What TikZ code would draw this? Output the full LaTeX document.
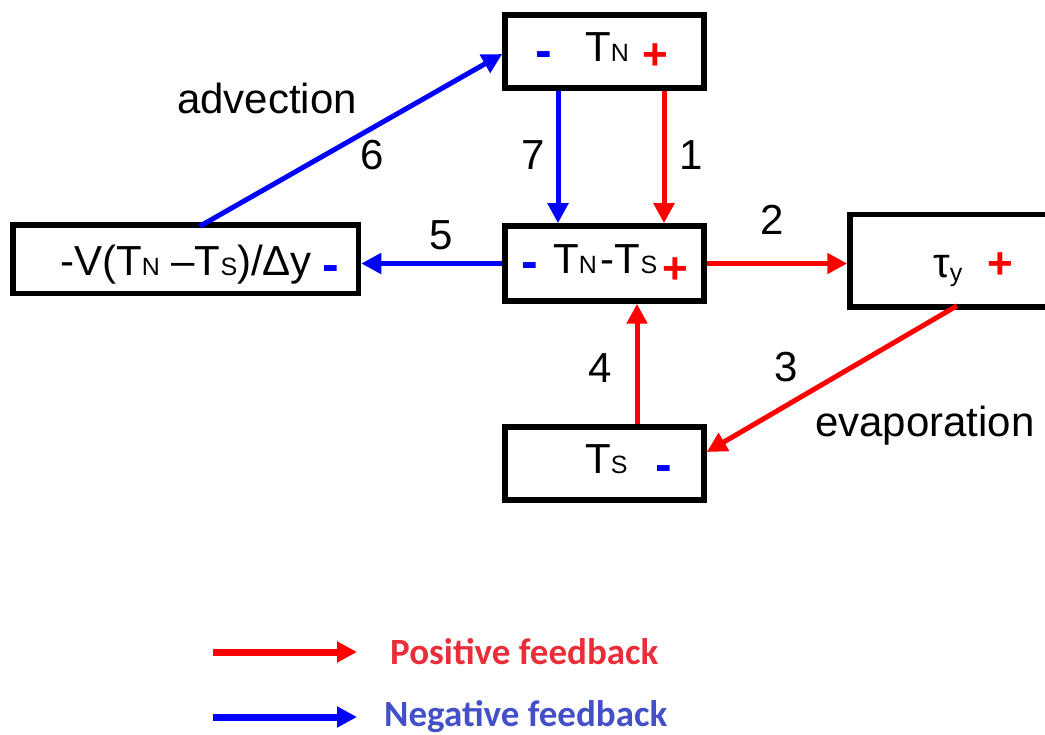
\documentclass[tikz,border=0pt]{standalone}
\usepackage{fontspec}
\setmainfont{Liberation Sans}
\newfontfamily\legfont{Carlito}
\usetikzlibrary{arrows.meta}
\definecolor{posred}{RGB}{255,0,0}
\definecolor{negblue}{RGB}{0,0,255}
\definecolor{legred}{RGB}{232,46,56}
\definecolor{legblue}{RGB}{68,80,200}
\newcommand{\smc}[1]{{\fontsize{25}{25}\selectfont #1}}
\begin{document}
\begin{tikzpicture}[x=1pt,y=-1pt,
  box/.style={draw=black,line width=5.5pt,inner sep=0pt},
  txt/.style={font=\fontsize{42}{42}\selectfont,inner sep=0pt,anchor=base},
  sgn/.style={font=\bfseries\fontsize{44}{44}\selectfont,inner sep=0pt,anchor=base},
  msgn/.style={font=\bfseries\fontsize{50}{50}\selectfont,inner sep=0pt,anchor=base},
  posarr/.style={draw=posred,line width=5pt,-{Triangle[length=20pt,width=20pt]}},
  negarr/.style={draw=negblue,line width=5pt,-{Triangle[length=20pt,width=20pt]}},
  legpos/.style={draw=posred,line width=7pt,-{Triangle[length=20pt,width=20pt]}},
  legneg/.style={draw=negblue,line width=7pt,-{Triangle[length=20pt,width=20pt]}},
  legtxt/.style={font=\legfont\bfseries\fontsize{37}{37}\selectfont,inner sep=0pt,anchor=west}]
\useasboundingbox (0,0) rectangle (1045,735);
% boxes
\node[box,minimum width=199pt,minimum height=73pt] (tn) at (604.5,51.5) {};
\node[box,minimum width=199pt,minimum height=75pt] (d) at (604.5,263.5) {};
\node[box,minimum width=345.5pt,minimum height=68.5pt] (adv) at (185.75,259.25) {};
\node[box,minimum width=200pt,minimum height=92.5pt] (tau) at (950,260.75) {};
\node[box,minimum width=199pt,minimum height=73pt] (ts) at (604.5,463.5) {};
% box texts
\node[txt,anchor=base west] (tnlab) at (585,62) {T\smc{N}};
\node[txt,anchor=base west] (dlab) at (553,274) {T\smc{N}\hspace{4pt}-T\smc{S}};
\node[txt,anchor=base west] (advlab) at (60,276) {-V(T\smc{N} –T\smc{S})/Δy};
\node[txt,anchor=base west] (taulab) at (933,278) {τ\raisebox{-4pt}{\smc{y}}};
\node[txt,anchor=base west] (tslab) at (585,474) {T\smc{S}};
% signs
\node[msgn,negblue] (tnm) at (543.5,68) {-};
\node[sgn,posred] (tnp) at (655,69.5) {+};
\node[msgn,negblue] (dm) at (530,278.5) {-};
\node[sgn,posred] (dp) at (675,283.5) {+};
\node[msgn,negblue] (advm) at (331,282) {-};
\node[sgn,posred] (taup) at (1000,278.5) {+};
\node[msgn,negblue] (tsm) at (663.5,482) {-};
% connectors
\draw[negarr] ([xshift=-46.5pt]tn.south) -- ([xshift=-46.5pt]d.north);
\draw[posarr] ([xshift=59.5pt]tn.south) -- ([xshift=59.5pt]d.north);
\draw[posarr] (d.east) -- (d.east -| tau.west);
\draw[negarr] (d.west) -- (d.west -| adv.east);
\draw[negarr] ([xshift=14pt,yshift=-4pt]adv.north) -- ([yshift=-2.5pt]tn.west);
\draw[posarr] ([xshift=7pt,yshift=4pt]tau.south) -- ([yshift=11.5pt]ts.east);
\draw[posarr] ([xshift=32.5pt]ts.north) -- ([xshift=32.5pt]d.south);
% labels
\node[txt] (l6) at (372,170) {6};
\node[txt] (l7) at (533,170) {7};
\node[txt] (l1) at (691,170) {1};
\node[txt] (l5) at (441,250) {5};
\node[txt] (l2) at (772,235) {2};
\node[txt] (l4) at (600,383) {4};
\node[txt] (l3) at (786,382) {3};
\node[txt,anchor=base west] (ladv) at (177,114) {advection};
\node[txt,anchor=base west] (levap) at (815,437) {evaporation};
% legend
\coordinate (pa) at (213,652);
\coordinate (pb) at (357,652);
\coordinate (na) at (213,717);
\coordinate (nb) at (357,717);
\draw[legpos] (pa) -- (pb);
\draw[legneg] (na) -- (nb);
\node[legtxt,text=legred] (pl) at (390,652) {Positive feedback};
\node[legtxt,text=legblue] (nl) at (384,717) {Negative feedback};
\end{tikzpicture}
\end{document}
